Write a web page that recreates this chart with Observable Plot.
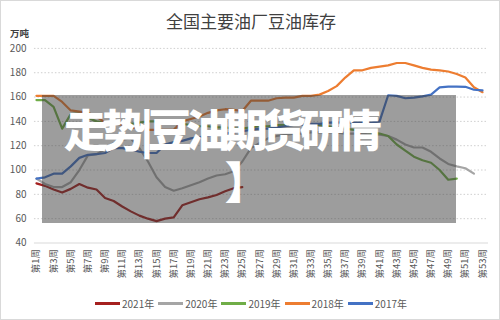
<!DOCTYPE html>
<html>
<head>
<meta charset="utf-8">
<script src="https://cdn.jsdelivr.net/npm/d3@7"></script>
<script src="https://cdn.jsdelivr.net/npm/@observablehq/plot@0.6"></script>
<style>
  html, body { margin: 0; padding: 0; background: #fff; }
  #wrap { position: relative; width: 500px; height: 320px; overflow: hidden; box-sizing: border-box; border: 1px solid #d9d9d9; font-family: "Noto Sans CJK SC", "Noto Sans", sans-serif; }
  #chart { position: absolute; left: -1px; top: -1px; }
  #title { position: absolute; left: 0; width: 500px; top: 10px; text-align: center; font-size: 17px; color: #404040; line-height: 20px; }
  #unit { position: absolute; left: 9px; top: 25px; font-size: 9.5px; font-weight: bold; color: #404040; }
  #legend { position: absolute; left: 0; width: 500px; top: 295px; display: flex; justify-content: center; align-items: center; font-size: 10px; color: #595959; }
  .item { display: flex; align-items: center; margin: 0 2px; }
  .sw { width: 25px; height: 3px; margin-right: 2px; }
  #box { position: absolute; left: 41px; top: 94px; width: 414px; height: 128px; background: rgba(60,60,60,0.5); }
  #wm { position: absolute; left: 63px; top: 101px; color: #fff; font-weight: 900; font-size: 44px; line-height: 52px; white-space: pre; letter-spacing: -6px; }
</style>
</head>
<body>
<div id="wrap">
  <div id="chart"></div>
  <div id="title"></div>
  <div id="unit"></div>
  <div id="box"></div>
  <div id="wm"></div>
  <div id="legend"></div>
</div>
<script>
const titleText = "全国主要油厂豆油库存";
const unitText = "万吨";
const watermarkText = "走势|豆油期货研情\n\u3000\u3000\u3000\u3000\u2004】";
const weeks = [1,2,3,4,5,6,7,8,9,10,11,12,13,14,15,16,17,18,19,20,21,22,23,24,25,26,27,28,29,30,31,32,33,34,35,36,37,38,39,40,41,42,43,44,45,46,47,48,49,50,51,52,53];
const tickWeeks = [1,3,5,7,9,11,13,15,17,19,21,23,25,27,29,31,33,35,37,39,41,43,45,47,49,51,53];
const yTicks = [40,60,80,100,120,140,160,180,200];
const gridTicks = [60,80,100,120,140,160,180,200];

const years = ["2021年","2020年","2019年","2018年","2017年"];
const colors = ["#a5201f","#a5a5a5","#70ad47","#ed7d31","#4472c4"];

const s2021 = [89,87,84,81.5,84.5,88.5,85.5,84,77,74.5,70,66,62.5,60,58,60,61,71,73.5,76,77.5,79.5,82.5,85,86];
const s2020 = [93,88.5,86,86,90,100,112,113,117,122,125,126,118,107,94,86,83,85,87.5,90,93,95.5,96.5,99,107,118,122,126,128,129,130,130,131,131,131,131,130,130,130,129,129,128,125,121,118.5,118.5,115,109.5,105,103,101.5,97];
const s2019 = [157.5,157.5,152,134,146,146.5,143,140,139,138.5,138,138,139,140,140,139,138,138,137,136,136,135,135,134,134,135,136,136,137,137,138,138,137,137,136,135,134,133,132,131,130,128,121,116,111,108,106,100,92,93];
const s2018 = [161,161,161,156,149,148,147,144,139,139,137,135,134,133,133,133,133,140,142,144,147,149,150,149.5,148.5,157,157,157,159,159.5,159.5,161,161,162,165,169,176,182,182,184,185,186,188,188,186,184,182.5,182,181,179,176,168,164];
const s2017 = [93,94,97,97,103,110,112.5,113,114,118,118,117,115,114,114,121,123,124,126,127,128,129,130,131,132,133,134,134,135,136,137,137,138,138,139,139,139,139,139,139,140,161.5,161,159,159.5,160.5,162,168,168.5,168.5,168.4,166,165.5];

const seriesList = [s2021, s2020, s2019, s2018, s2017];

document.getElementById("title").textContent = titleText;
document.getElementById("unit").textContent = unitText;
document.getElementById("wm").textContent = watermarkText;

const lineMarks = seriesList.map((s, i) =>
  Plot.lineY(s.map((v, j) => ({week: weeks[j], value: v})), {
    x: "week", y: "value", stroke: colors[i], strokeWidth: 2.2, strokeLinejoin: "round", strokeLinecap: "round"
  })
);

const chart = Plot.plot({
  width: 500,
  height: 282,
  marginTop: 48,
  marginBottom: 39,
  marginLeft: 34,
  marginRight: 11,
  style: {fontFamily: '"Noto Sans CJK SC", "Noto Sans", sans-serif', color: "#595959", background: "transparent"},
  x: {domain: [1, 53], range: [36, 483]},
  y: {domain: [40, 200]},
  marks: [
    Plot.ruleY(gridTicks, {stroke: "#cfcfcf", strokeDasharray: "1.5,2", strokeWidth: 1}),
    Plot.ruleY([40], {stroke: "#d9d9d9", strokeWidth: 1}),
    Plot.axisY({ticks: yTicks, tickSize: 0, tickPadding: 8, fontSize: 10, label: null}),
    Plot.axisX({ticks: tickWeeks, tickFormat: d => `第${d}周`, tickRotate: -90, tickSize: 0, tickPadding: 6, fontSize: 9.5, label: null}),
    ...lineMarks
  ]
});
document.getElementById("chart").appendChild(chart);

const legend = document.getElementById("legend");
years.forEach((y, i) => {
  const it = document.createElement("div");
  it.className = "item";
  const sw = document.createElement("div");
  sw.className = "sw";
  sw.style.background = colors[i];
  const t = document.createElement("span");
  t.textContent = y;
  it.appendChild(sw);
  it.appendChild(t);
  legend.appendChild(it);
});
</script>
</body>
</html>
